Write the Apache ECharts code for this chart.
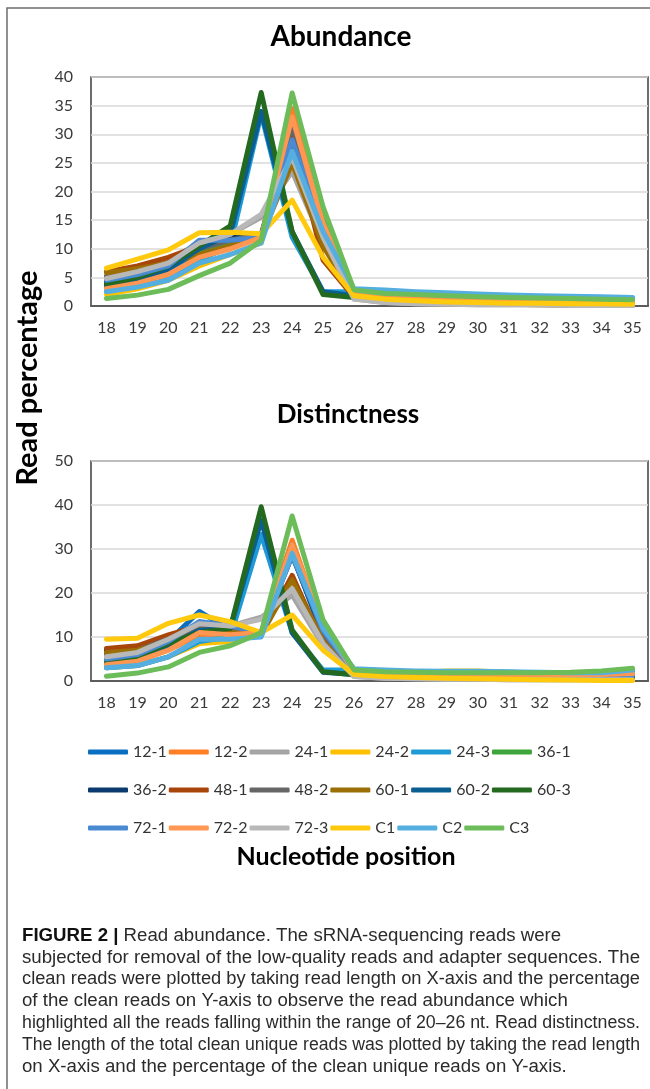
<!DOCTYPE html>
<html>
<head>
<meta charset="utf-8">
<script src="https://cdn.jsdelivr.net/npm/echarts@6/dist/echarts.min.js"></script>
<style>
html,body{margin:0;padding:0;background:#fff;}
#chart{width:650px;height:1089px;}
</style>
</head>
<body>
<div id="chart"></div>
<script>
// ---- categories / ticks ----
const categories = ['18','19','20','21','22','23','24','25','26','27','28','29','30','31','32','33','34','35'];
const seriesNames = ['12-1','12-2','24-1','24-2','24-3','36-1','36-2','48-1','48-2','60-1','60-2','60-3','72-1','72-2','72-3','C1','C2','C3'];

// ---- Abundance (read %) ----
const ab_12_1 = [3.5,4.5,6.0,9.5,11.0,12.0,30.0,12.0,2.0,1.2,0.9,0.7,0.6,0.5,0.5,0.4,0.4,0.4];
const ab_12_2 = [3.2,4.0,5.5,8.5,10.0,12.0,34.5,14.0,2.2,1.5,1.2,1.0,0.9,0.8,0.8,0.7,0.7,0.7];
const ab_24_1 = [5.0,6.5,8.0,11.0,12.5,15.5,23.5,11.0,1.2,0.6,0.4,0.3,0.2,0.2,0.2,0.1,0.1,0.1];
const ab_24_2 = [2.0,3.0,4.5,7.0,9.0,11.0,31.0,13.0,2.0,1.2,0.9,0.7,0.6,0.5,0.5,0.4,0.4,0.3];
const ab_24_3 = [2.6,3.5,5.0,8.0,10.5,33.5,12.0,2.5,2.5,2.3,2.1,2.0,1.8,1.7,1.6,1.5,1.5,1.4];
const ab_36_1 = [4.0,5.0,7.0,9.5,11.0,12.0,30.5,15.0,2.5,2.0,1.8,1.6,1.4,1.3,1.2,1.2,1.1,1.1];
const ab_36_2 = [4.3,5.5,7.5,11.0,12.0,12.5,28.5,13.0,2.0,1.2,0.9,0.7,0.6,0.5,0.5,0.5,0.4,0.4];
const ab_48_1 = [6.0,7.0,8.5,10.5,11.5,12.0,29.5,8.0,1.5,0.8,0.6,0.4,0.3,0.3,0.3,0.2,0.2,0.2];
const ab_48_2 = [5.2,6.0,7.5,10.0,11.5,12.5,31.5,12.0,1.8,0.9,0.6,0.5,0.4,0.3,0.3,0.3,0.2,0.2];
const ab_60_1 = [5.8,6.5,7.5,9.0,10.5,12.0,25.0,10.5,1.5,0.8,0.5,0.4,0.3,0.3,0.2,0.2,0.2,0.2];
const ab_60_2 = [3.6,4.5,6.5,10.0,12.5,34.0,13.0,2.5,1.8,1.2,1.0,0.9,0.8,0.7,0.7,0.6,0.6,0.6];
const ab_60_3 = [3.8,5.0,7.0,10.5,14.0,37.3,13.0,2.0,1.5,1.0,0.8,0.7,0.6,0.5,0.5,0.5,0.4,0.4];
const ab_72_1 = [4.5,5.5,7.0,11.5,11.5,12.0,29.0,13.5,2.0,1.3,1.0,0.8,0.7,0.6,0.6,0.5,0.5,0.5];
const ab_72_2 = [3.0,4.0,5.5,8.5,10.0,12.0,33.0,14.5,2.2,1.6,1.3,1.1,1.0,0.9,0.8,0.8,0.7,0.7];
const ab_72_3 = [4.8,6.0,7.5,11.0,12.5,16.0,26.0,12.0,1.2,0.6,0.4,0.3,0.2,0.2,0.2,0.1,0.1,0.1];
const ab_C1   = [6.6,8.2,9.8,12.8,12.9,12.6,18.5,8.5,1.8,1.2,0.9,0.7,0.6,0.5,0.5,0.4,0.4,0.3];
const ab_C2   = [2.5,3.3,4.5,7.5,9.0,11.0,27.0,13.0,3.0,2.8,2.5,2.3,2.1,1.9,1.8,1.7,1.6,1.5];
const ab_C3   = [1.3,1.9,2.9,5.3,7.5,11.5,37.2,17.3,2.8,2.2,2.0,1.8,1.6,1.5,1.4,1.3,1.2,1.1];

// ---- Distinctness (read %) ----
const di_12_1 = [4.5,5.5,9.0,15.8,11.5,10.5,29.0,10.0,2.0,1.5,1.3,1.3,1.2,1.2,1.2,1.1,1.1,1.0];
const di_12_2 = [3.5,4.5,7.0,10.5,10.5,11.0,32.0,12.0,2.0,1.6,1.5,1.5,1.5,1.5,1.4,1.4,1.5,1.6];
const di_24_1 = [5.5,7.0,10.0,13.0,12.5,14.5,19.5,8.0,1.0,0.6,0.5,0.4,0.4,0.3,0.3,0.3,0.3,0.3];
const di_24_2 = [3.0,3.5,5.5,8.5,9.0,10.5,30.0,11.5,2.0,1.8,1.8,2.3,2.3,2.0,1.8,1.8,2.0,2.6];
const di_24_3 = [3.0,3.5,5.5,9.0,10.0,33.3,11.0,2.5,2.5,2.3,2.0,2.0,2.0,2.0,1.8,1.6,1.6,2.2];
const di_36_1 = [4.8,5.5,8.0,11.0,11.0,11.0,30.0,13.0,2.5,2.0,1.8,1.8,1.8,1.8,1.7,1.7,1.8,2.0];
const di_36_2 = [7.0,7.5,9.5,12.0,11.5,11.0,28.5,11.0,1.8,1.2,1.0,0.9,0.9,0.8,0.8,0.8,0.8,0.8];
const di_48_1 = [7.4,8.0,10.5,12.5,12.0,11.0,24.0,8.5,1.5,1.0,0.8,0.7,0.7,0.6,0.6,0.6,0.6,0.7];
const di_48_2 = [6.0,7.0,9.5,12.5,12.0,11.0,31.0,10.5,1.5,0.9,0.7,0.6,0.5,0.5,0.5,0.5,0.5,0.5];
const di_60_1 = [6.5,7.0,9.0,11.0,11.0,10.5,23.0,9.0,1.3,0.9,0.7,0.6,0.6,0.6,0.6,0.6,0.7,0.8];
const di_60_2 = [4.0,5.0,8.0,11.5,12.0,36.5,11.0,2.0,1.5,1.2,1.0,1.0,1.0,1.0,1.0,0.9,0.9,0.9];
const di_60_3 = [4.0,5.5,8.5,11.0,12.0,39.6,11.6,2.1,1.4,1.0,0.8,0.8,0.7,0.7,0.7,0.7,0.6,0.6];
const di_72_1 = [5.0,6.0,9.0,13.5,12.5,11.0,28.5,11.5,2.0,1.5,1.3,1.3,1.3,1.3,1.2,1.2,1.2,1.3];
const di_72_2 = [3.7,4.5,7.0,11.0,10.5,11.0,31.0,12.5,2.2,1.7,1.5,1.5,1.5,1.5,1.4,1.4,1.5,1.7];
const di_72_3 = [5.5,6.5,9.5,13.0,12.5,14.0,21.0,8.5,1.0,0.6,0.5,0.4,0.4,0.3,0.3,0.3,0.3,0.3];
const di_C1   = [9.5,9.7,13.1,15.0,13.5,11.0,15.0,7.0,1.5,1.0,0.8,0.6,0.5,0.4,0.3,0.2,0.1,0.1];
const di_C2   = [3.0,3.5,5.5,9.5,9.5,10.0,29.0,12.0,2.8,2.5,2.3,2.2,2.2,2.1,2.0,1.9,1.9,2.5];
const di_C3   = [1.1,1.8,3.2,6.5,8.0,11.0,37.5,13.9,2.5,2.1,2.0,1.9,1.9,1.9,1.9,2.0,2.3,2.9];

const abundanceData = [ab_12_1,ab_12_2,ab_24_1,ab_24_2,ab_24_3,ab_36_1,ab_36_2,ab_48_1,ab_48_2,ab_60_1,ab_60_2,ab_60_3,ab_72_1,ab_72_2,ab_72_3,ab_C1,ab_C2,ab_C3];
const distinctData  = [di_12_1,di_12_2,di_24_1,di_24_2,di_24_3,di_36_1,di_36_2,di_48_1,di_48_2,di_60_1,di_60_2,di_60_3,di_72_1,di_72_2,di_72_3,di_C1,di_C2,di_C3];

const captionLines = [
  '{b|FIGURE 2 |} Read abundance. The sRNA-sequencing reads were',
  'subjected for removal of the low-quality reads and adapter sequences. The',
  'clean reads were plotted by taking read length on X-axis and the percentage',
  'of the clean reads on Y-axis to observe the read abundance which',
  'highlighted all the reads falling within the range of 20\u201326 nt. Read distinctness.',
  'The length of the total clean unique reads was plotted by taking the read length',
  'on X-axis and the percentage of the clean unique reads on Y-axis.'
];

// ---- styles ----
const palette = ['#0A6FC2','#FF7F27','#A5A5A5','#FFC000','#1E9BD7','#3EA53A',
                 '#0B3B6E','#A8460A','#666666','#9C6E06','#0A5E90','#236A20',
                 '#4A8AD3','#FF9752','#B8B8B8','#FFC90E','#55AEE0','#6CBD5A'];
const FONT = 'Lato, "Open Sans", sans-serif';

const chart = echarts.init(document.getElementById('chart'), null, {renderer:'canvas'});

const series = [];
seriesNames.forEach((n,i)=>{
  series.push({type:'line', name:n, xAxisIndex:0, yAxisIndex:0, data:abundanceData[i],
    color:palette[i], symbol:'none', smooth:false, z:2+i*0.01,
    lineStyle:{width:5, cap:'round', join:'round'}});
});
seriesNames.forEach((n,i)=>{
  series.push({type:'line', name:n, xAxisIndex:1, yAxisIndex:1, data:distinctData[i],
    color:palette[i], symbol:'none', smooth:false, z:2+i*0.01,
    lineStyle:{width:5, cap:'round', join:'round'}});
});

function legendRow(names, top){
  return {top:top, left:88, padding:0, orient:'horizontal', icon:'roundRect',
    itemWidth:40, itemHeight:5, itemGap:2, selectedMode:false,
    textStyle:{fontSize:16, color:'#333', fontFamily:FONT, width:31},
    data:names};
}

// caption scaling so justified lines fill the text block width
const measureCtx = document.createElement('canvas').getContext('2d');
const capFont = '"Liberation Sans", Arial, sans-serif';
const capSize = 17.5;
function measureLine(t){
  let w = 0;
  const m = t.match(/^\{b\|(.*?)\}(.*)$/);
  if(m){
    measureCtx.font = 'bold '+capSize+'px '+capFont; w += measureCtx.measureText(m[1]).width;
    measureCtx.font = capSize+'px '+capFont; w += measureCtx.measureText(m[2]).width;
  } else {
    measureCtx.font = capSize+'px '+capFont; w = measureCtx.measureText(t).width;
  }
  return w;
}
const justified = [false,true,true,false,true,true,false];
const blockW = 618;
const baseScale = blockW / measureLine(captionLines[1]);
const captionGraphics = captionLines.map((t,i)=>({
  type:'text', x:22, y:936 + i*21.8, scaleX: justified[i] ? blockW/measureLine(t) : baseScale,
  style:{text:t, fontSize:capSize, fontFamily:capFont, fill:'#2b2b2b', align:'left', verticalAlign:'middle',
    rich:{b:{fontWeight:'bold', fontSize:capSize, fontFamily:capFont, fill:'#111'}}}
}));

const option = {
  animation:false,
  backgroundColor:'#fff',
  grid:[
    {left:91, top:77, width:557, height:229, show:true, borderColor:'#3c3c3c', borderWidth:1.5, backgroundColor:'transparent'},
    {left:91, top:461, width:557, height:220, show:true, borderColor:'#3c3c3c', borderWidth:1.5, backgroundColor:'transparent'}
  ],
  xAxis:[0,1].map(g=>({type:'category', gridIndex:g, data:categories, boundaryGap:true,
    axisLine:{show:true, lineStyle:{color:'#3c3c3c', width:1.5}}, axisTick:{show:false},
    axisLabel:{fontSize:16, color:'#3a3a3a', fontFamily:FONT, margin:14, interval:0}})),
  yAxis:[
    {type:'value', gridIndex:0, min:0, max:40, interval:5,
     axisLine:{show:false}, axisTick:{show:false},
     axisLabel:{fontSize:16, color:'#3a3a3a', fontFamily:FONT, margin:18},
     splitLine:{lineStyle:{color:'#d9d9d9', width:1.5}}},
    {type:'value', gridIndex:1, min:0, max:50, interval:10,
     axisLine:{show:false}, axisTick:{show:false},
     axisLabel:{fontSize:16, color:'#3a3a3a', fontFamily:FONT, margin:18},
     splitLine:{lineStyle:{color:'#d9d9d9', width:1.5}}}
  ],
  legend:[
    legendRow(seriesNames.slice(0,6), 744),
    legendRow(seriesNames.slice(6,12), 782),
    legendRow(seriesNames.slice(12,18), 820)
  ],
  graphic:[
    {type:'rect', shape:{x:7, y:8, width:700, height:1120}, style:{fill:'none', stroke:'#6e6e6e', lineWidth:1.5}, silent:true},
    {type:'text', x:341, y:37, style:{text:'Abundance', fontSize:28, fontWeight:'bold', fontFamily:FONT, fill:'#000', align:'center', verticalAlign:'middle'}},
    {type:'text', x:348, y:415, style:{text:'Distinctness', fontSize:26, fontWeight:'bold', fontFamily:FONT, fill:'#000', align:'center', verticalAlign:'middle'}},
    {type:'text', x:346, y:857, style:{text:'Nucleotide position', fontSize:25, fontWeight:'bold', fontFamily:FONT, fill:'#000', align:'center', verticalAlign:'middle'}},
    {type:'text', x:28, y:378, rotation:Math.PI/2, style:{text:'Read percentage', fontSize:29, fontWeight:'bold', fontFamily:FONT, fill:'#000', align:'center', verticalAlign:'middle'}}
  ].concat(captionGraphics),
  series:series
};
chart.setOption(option);
</script>
</body>
</html>
